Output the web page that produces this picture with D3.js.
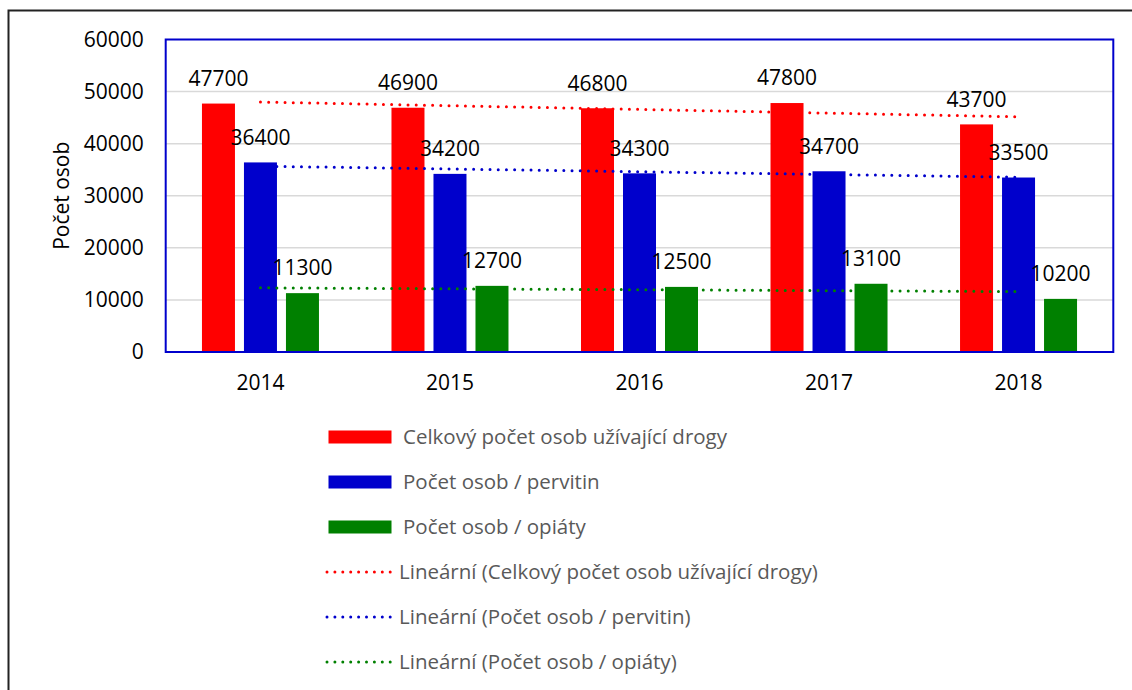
<!DOCTYPE html>
<html>
<head>
<meta charset="utf-8">
<script src="https://cdn.jsdelivr.net/npm/d3@7"></script>
<style>
  html, body { margin: 0; padding: 0; background: #fff; }
  svg { display: block; }
  text { font-family: "Open Sans", "Liberation Sans", sans-serif; }
</style>
</head>
<body>
<svg id="chart" width="1132" height="690"></svg>
<script>
// Years on the x axis
const years = ["2014", "2015", "2016", "2017", "2018"];

// Series names (legend text)
const seriesNames = [
  "Celkový počet osob užívající drogy",
  "Počet osob / pervitin",
  "Počet osob / opiáty"
];

// Values per series, one per year
const totalUsers = [47700, 46900, 46800, 47800, 43700];
const pervitinUsers = [36400, 34200, 34300, 34700, 33500];
const opiateUsers = [11300, 12700, 12500, 13100, 10200];

// Y axis ticks
const yTicks = [0, 10000, 20000, 30000, 40000, 50000, 60000];

const seriesValues = [totalUsers, pervitinUsers, opiateUsers];
const seriesColors = ["#ff0000", "#0000cc", "#008000"];

const svg = d3.select("#chart");
const W = 1132, H = 690;
const plot = { left: 165.7, right: 1113.3, top: 39.5, bottom: 352 };

// outer chart frame (left and top edges visible)
svg.append("path")
  .attr("d", `M8.5,${H} L8.5,10.5 L${W},10.5`)
  .attr("fill", "none").attr("stroke", "#222").attr("stroke-width", 2);

const x0 = d3.scaleBand().domain(years).range([plot.left, plot.right]);
const x1 = d3.scaleBand().domain(d3.range(seriesValues.length))
  .range([-63, 63]).paddingInner(9 / 42).paddingOuter(4.5 / 42);
const y = d3.scaleLinear().domain([0, 60000]).range([plot.bottom, plot.top]);

// gridlines
svg.append("g").selectAll("line").data(yTicks.filter(t => t > 0 && t < 60000)).join("line")
  .attr("x1", plot.left).attr("x2", plot.right)
  .attr("y1", d => y(d)).attr("y2", d => y(d))
  .attr("stroke", "#d9d9d9").attr("stroke-width", 1.5);

// y axis labels
const yAxis = d3.axisLeft(y).tickValues(yTicks).tickSize(0).tickPadding(22).tickFormat(d3.format("d"));
const gy = svg.append("g").attr("transform", `translate(${plot.left},0)`).call(yAxis);
gy.select(".domain").remove();
gy.selectAll("text").attr("font-size", 21).attr("fill", "#000")
  .attr("font-family", "\"Open Sans\", sans-serif");

// x axis labels
const xAxis = d3.axisBottom(x0).tickSize(0).tickPadding(23);
const gx = svg.append("g").attr("transform", `translate(0,${plot.bottom})`).call(xAxis);
gx.select(".domain").remove();
gx.selectAll("text").attr("font-size", 21).attr("fill", "#000")
  .attr("font-family", "\"Open Sans\", sans-serif");

// bars
const barData = [];
seriesValues.forEach((vals, si) => vals.forEach((v, yi) => barData.push({ si, year: years[yi], v })));
svg.append("g").selectAll("rect").data(barData).join("rect")
  .attr("x", d => x0(d.year) + x0.bandwidth() / 2 + x1(d.si))
  .attr("width", x1.bandwidth())
  .attr("y", d => y(d.v))
  .attr("height", d => y(0) - y(d.v))
  .attr("fill", d => seriesColors[d.si]);

// zero baseline
svg.append("line")
  .attr("x1", plot.left).attr("x2", plot.right)
  .attr("y1", y(0)).attr("y2", y(0))
  .attr("stroke", "#c4c4dc").attr("stroke-width", 1.5);

// linear trendlines (least squares fit over the year index)
function linearFit(vals) {
  const n = vals.length;
  const xs = d3.range(n);
  const mx = d3.mean(xs), my = d3.mean(vals);
  const slope = d3.sum(xs, (xi, i) => (xi - mx) * (vals[i] - my)) / d3.sum(xs, xi => (xi - mx) ** 2);
  return i => my + slope * (i - mx);
}
const center = yr => x0(yr) + x0.bandwidth() / 2;
seriesValues.forEach((vals, si) => {
  const f = linearFit(vals);
  const line = d3.line().x(i => center(years[i])).y(i => y(f(i)));
  svg.append("path")
    .attr("d", line([0, years.length - 1]))
    .attr("fill", "none")
    .attr("stroke", seriesColors[si])
    .attr("stroke-width", 3)
    .attr("stroke-linecap", "round")
    .attr("stroke-dasharray", "0 8.2");
});

// data labels
svg.append("g").selectAll("text").data(barData).join("text")
  .attr("x", d => x0(d.year) + x0.bandwidth() / 2 + x1(d.si) + x1.bandwidth() / 2)
  .attr("y", d => y(d.v) - 25)
  .attr("dy", "0.35em")
  .attr("text-anchor", "middle")
  .attr("font-size", 21)
  .attr("fill", "#000")
  .text(d => d.v);

// plot area border
svg.append("rect")
  .attr("x", plot.left).attr("y", plot.top)
  .attr("width", plot.right - plot.left).attr("height", plot.bottom - plot.top)
  .attr("fill", "none").attr("stroke", "#0000cc").attr("stroke-width", 2);

// y axis title
svg.append("text")
  .attr("transform", `translate(62,${(plot.top + plot.bottom) / 2}) rotate(-90)`)
  .attr("text-anchor", "middle").attr("dy", "0.35em")
  .attr("font-size", 21).attr("fill", "#000")
  .text("Počet osob");

// legend
const legendItems = [
  ...seriesNames.map((name, i) => ({ type: "bar", color: seriesColors[i], label: name })),
  ...seriesNames.map((name, i) => ({ type: "trend", color: seriesColors[i], label: `Lineární (${name})` }))
];
const lg = svg.append("g");
legendItems.forEach((it, i) => {
  const cy = 437 + i * 45;
  if (it.type === "bar") {
    lg.append("rect").attr("x", 328.5).attr("y", cy - 6.5).attr("width", 63).attr("height", 13).attr("fill", it.color);
  } else {
    lg.append("line").attr("x1", 327).attr("x2", 391).attr("y1", cy).attr("y2", cy)
      .attr("stroke", it.color).attr("stroke-width", 3).attr("stroke-linecap", "round")
      .attr("stroke-dasharray", "0 7.9");
  }
  lg.append("text").attr("x", it.type === "bar" ? 403 : 399).attr("y", cy).attr("dy", "0.35em")
    .attr("font-size", 20.5).attr("fill", "#595959").text(it.label);
});
</script>
</body>
</html>
